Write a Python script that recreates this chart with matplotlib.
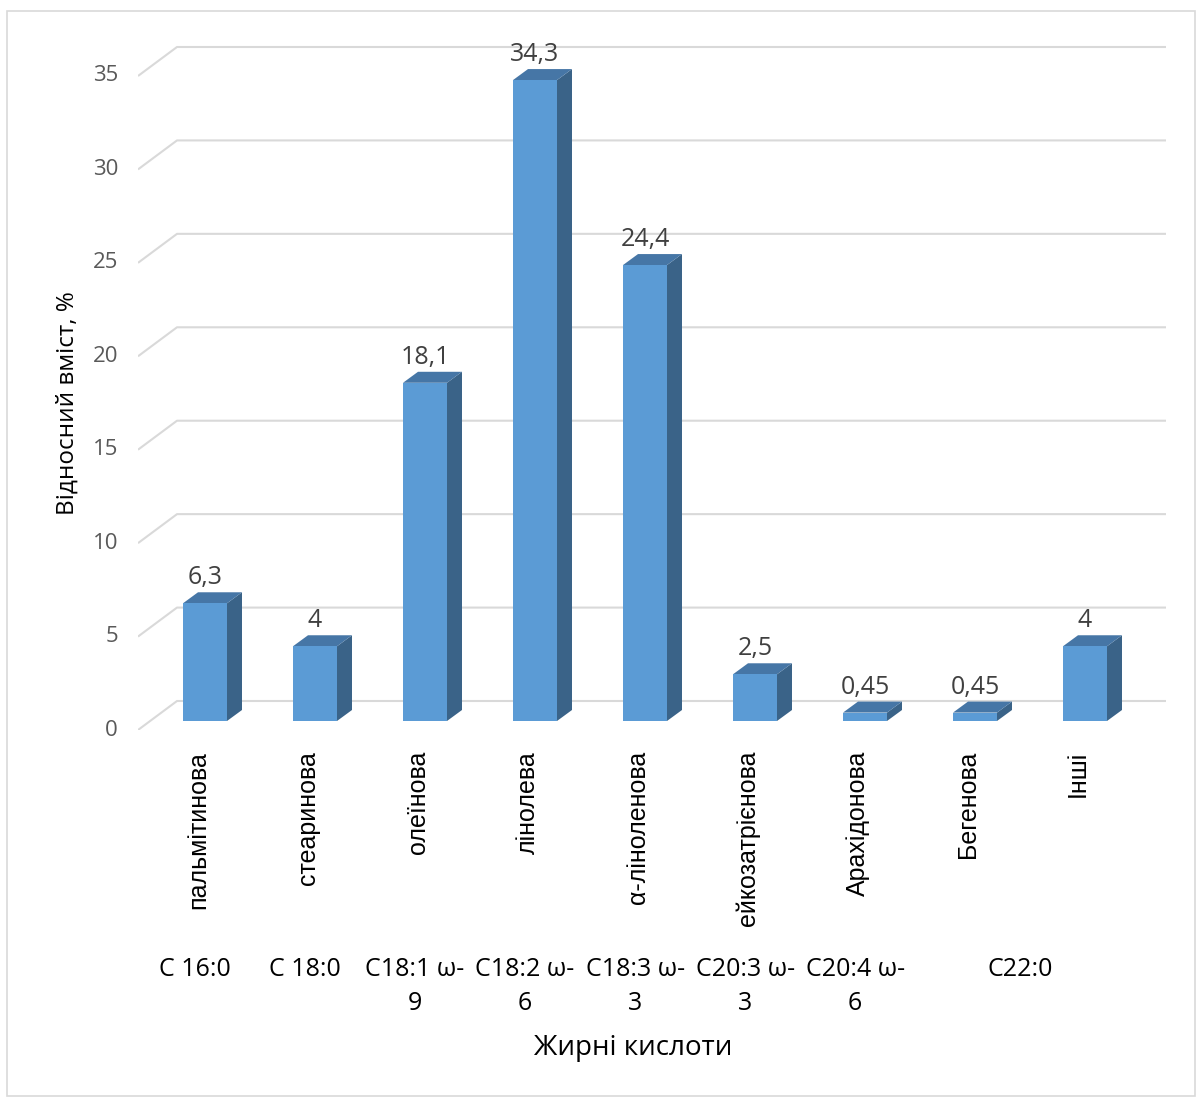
import numpy as np
import matplotlib.pyplot as plt
from matplotlib.patches import Polygon, Rectangle

# ===================== ДАНІ =====================
names = ["пальмітинова", "стеаринова", "олеїнова", "лінолева", "α-ліноленова",
         "ейкозатрієнова", "Арахідонова", "Бегенова", "Інші"]
values = [6.3, 4, 18.1, 34.3, 24.4, 2.5, 0.45, 0.45, 4]
value_labels = ["6,3", "4", "18,1", "34,3", "24,4", "2,5", "0,45", "0,45", "4"]

groups = ["C 16:0", "C 18:0", "C18:1 ω-\n9", "C18:2 ω-\n6", "C18:3 ω-\n3",
          "C20:3 ω-\n3", "C20:4 ω-\n6", "C22:0"]
group_first = [0, 1, 2, 3, 4, 5, 6, 7]
group_last = [0, 1, 2, 3, 4, 5, 6, 8]

yticks = [0, 5, 10, 15, 20, 25, 30, 35]

# ===================== ГЕОМЕТРІЯ (псевдо-3D) =====================
W, H = 1198, 1097
PX_X = 110.0          # пікселів на одну категорію
PX_Y = 18.686         # пікселів на одиницю значення

wall_dx, wall_dy = 39 / PX_X, 29 / PX_Y      # зсув задньої стінки
bar_dx, bar_dy = 15 / PX_X, 11 / PX_Y        # глибина стовпчика
lift = 9 / PX_Y                              # підйом стовпчиків над передньою площиною
bw = 0.4

front_col = "#5B9BD5"
top_col = "#4676A6"
side_col = "#3A6388"
grid_col = "#D9D9D9"

fig = plt.figure(figsize=(W / 100, H / 100), dpi=100)
ax = fig.add_axes([138 / W, (H - 730) / H, (1166 - 138) / W, (730 - 30) / H])
x0, x1 = (138 - 205) / PX_X, (1166 - 205) / PX_X
ax.set_xlim(x0, x1)
ax.set_ylim(0, 700 / PX_Y)
ax.axis("off")

# Сітка
for v in yticks:
    ax.plot([x0, x0 + wall_dx, x1], [v, v + wall_dy, v + wall_dy],
            color=grid_col, lw=1.5, zorder=1, solid_capstyle="butt")
    ax.text(x0 - 20 / PX_X, v, str(v), ha="right", va="center",
            fontsize=16, color="#595959", family="Open Sans")

# Стовпчики
for i, (v, lab) in enumerate(zip(values, value_labels)):
    xl, xr = i - bw / 2, i + bw / 2
    yb, yt = lift, lift + v
    ax.add_patch(Polygon([(xr, yb), (xr + bar_dx, yb + bar_dy),
                          (xr + bar_dx, yt + bar_dy), (xr, yt)],
                         closed=True, facecolor=side_col, edgecolor="none", zorder=3))
    ax.add_patch(Polygon([(xl, yt), (xr, yt), (xr + bar_dx, yt + bar_dy),
                          (xl + bar_dx, yt + bar_dy)],
                         closed=True, facecolor=top_col, edgecolor="none", zorder=3))
    ax.bar(i, v, width=bw, bottom=lift, color=front_col, zorder=4)
    ax.text(i, yt + bar_dy + 8 / PX_Y, lab, ha="center", va="baseline",
            fontsize=18, color="#404040", family="Open Sans")

# Підписи категорій
for i, n in enumerate(names):
    ax.text(i - 0.064, -21 / PX_Y, n, rotation=90, ha="center", va="top",
            fontsize=18, color="black", family="Liberation Sans")

for g, a, b in zip(groups, group_first, group_last):
    ax.text((a + b) / 2 - 0.09, -227 / PX_Y, g, ha="center", va="top",
            multialignment="center", linespacing=1.45,
            fontsize=18, color="black", family="Open Sans")

# Назви осей
fig.text(633 / W, 1 - 1048 / H, "Жирні кислоти", ha="center", va="center",
         fontsize=20, color="black", family="Open Sans")
fig.text(68 / W, 1 - 403 / H, "Відносний вміст, %", ha="center", va="center",
         rotation=90, fontsize=17.5, color="black", family="Open Sans")

# Рамка
fig.patches.append(Rectangle((7 / W, 1 / H), 1188 / W, 1085 / H,
                             transform=fig.transFigure, fill=False,
                             edgecolor=grid_col, lw=1.2))

fig.savefig("out.png", dpi=100)
